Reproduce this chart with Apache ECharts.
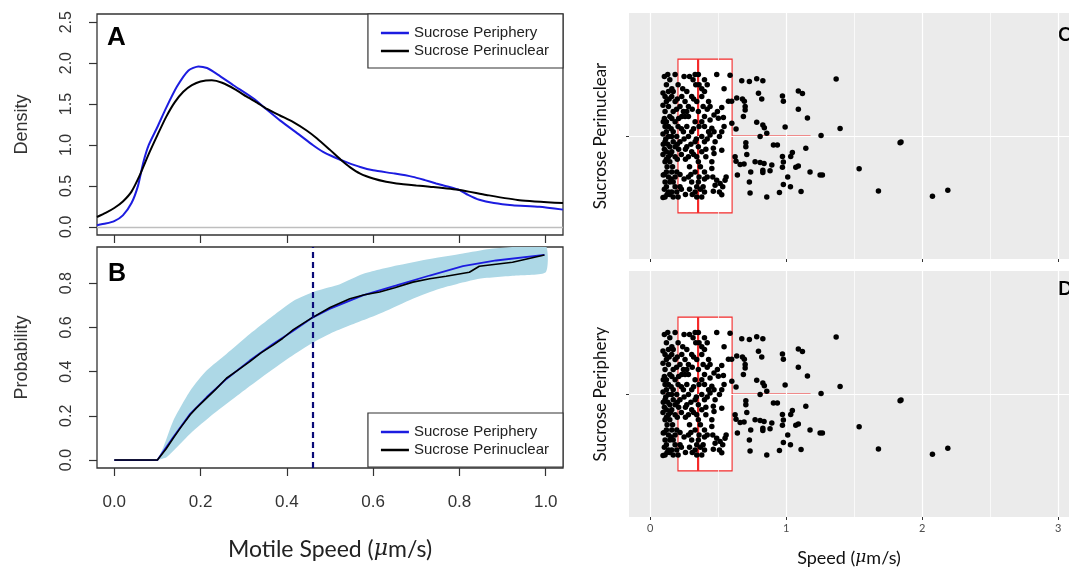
<!DOCTYPE html>
<html>
<head>
<meta charset="utf-8">
<title>Motile speed</title>
<script src="https://cdn.jsdelivr.net/npm/echarts@6.0.0/dist/echarts.min.js"></script>
<style>
  html, body { margin: 0; padding: 0; background: #fff; }
  #chart { width: 1069px; height: 571px; }
</style>
</head>
<body>
<div id="chart"></div>
<script>
// ---- panel A: kernel density, [speed, density]
var densityPeriphery = [
  [-0.04, 0.02], [-0.02, 0.04], [0.0, 0.07], [0.02, 0.14], [0.04, 0.29], [0.055, 0.5],
  [0.067, 0.78], [0.08, 1.0], [0.1, 1.22], [0.12, 1.45], [0.145, 1.71], [0.172, 1.91],
  [0.195, 1.96], [0.215, 1.94], [0.24, 1.86], [0.276, 1.73], [0.322, 1.57], [0.354, 1.43],
  [0.384, 1.30], [0.43, 1.12], [0.46, 1.0], [0.484, 0.915], [0.51, 0.85], [0.538, 0.79],
  [0.57, 0.73], [0.6, 0.69], [0.65, 0.65], [0.692, 0.61], [0.72, 0.57], [0.746, 0.53],
  [0.775, 0.49], [0.8, 0.45], [0.82, 0.39], [0.846, 0.33], [0.88, 0.29], [0.923, 0.264],
  [0.985, 0.244], [1.04, 0.21]
];
var densityPerinuclear = [
  [-0.04, 0.12], [-0.02, 0.17], [0.0, 0.23], [0.02, 0.31], [0.04, 0.43], [0.06, 0.64],
  [0.08, 0.89], [0.1, 1.12], [0.12, 1.34], [0.14, 1.52], [0.16, 1.65], [0.18, 1.73],
  [0.2, 1.775], [0.226, 1.79], [0.25, 1.76], [0.28, 1.68], [0.307, 1.59], [0.33, 1.52],
  [0.354, 1.44], [0.384, 1.36], [0.415, 1.28], [0.445, 1.18], [0.47, 1.08], [0.5, 0.94],
  [0.525, 0.82], [0.546, 0.73], [0.57, 0.65], [0.6, 0.59], [0.63, 0.55], [0.654, 0.53],
  [0.7, 0.505], [0.731, 0.49], [0.8, 0.45], [0.862, 0.39], [0.939, 0.325], [1.04, 0.29]
];
var densityTicks = [0, 0.5, 1, 1.5, 2, 2.5];

// ---- panel B: cumulative probability, [speed, probability]
var cdfPeriphery = [
  [0, 0], [0.1, 0], [0.102, 0.006], [0.137, 0.104], [0.176, 0.209], [0.214, 0.284],
  [0.26, 0.367], [0.314, 0.45], [0.368, 0.525], [0.415, 0.585], [0.457, 0.642], [0.499, 0.684],
  [0.576, 0.745], [0.654, 0.79], [0.731, 0.835], [0.808, 0.877], [0.885, 0.903], [0.997, 0.928]
];
var cdfPerinuclear = [
  [0, 0], [0.1, 0], [0.102, 0.006], [0.12, 0.05], [0.137, 0.10], [0.155, 0.15], [0.176, 0.205],
  [0.19, 0.235], [0.214, 0.28], [0.235, 0.32], [0.26, 0.37], [0.285, 0.405], [0.314, 0.445],
  [0.34, 0.485], [0.368, 0.52], [0.39, 0.55], [0.415, 0.59], [0.435, 0.615], [0.457, 0.642],
  [0.5, 0.69], [0.546, 0.73], [0.58, 0.748], [0.615, 0.76], [0.65, 0.78], [0.692, 0.805],
  [0.731, 0.82], [0.769, 0.832], [0.823, 0.85], [0.846, 0.877], [0.923, 0.895], [0.997, 0.928]
];
// envelope of the simulated curves (light blue band)
var bandUpper = [
  [0.1, 0], [0.114, 0.059], [0.137, 0.179], [0.176, 0.314], [0.214, 0.405], [0.26, 0.48],
  [0.314, 0.57], [0.368, 0.653], [0.415, 0.72], [0.469, 0.766], [0.523, 0.796], [0.576, 0.842],
  [0.654, 0.88], [0.731, 0.91], [0.808, 0.935], [0.87, 0.955], [0.93, 0.965], [1.0, 0.97]
];
var bandLower = [
  [0.1, 0], [0.122, 0.014], [0.176, 0.119], [0.23, 0.209], [0.291, 0.30], [0.353, 0.39],
  [0.407, 0.465], [0.461, 0.532], [0.5, 0.572], [0.576, 0.632], [0.623, 0.669], [0.692, 0.73],
  [0.754, 0.775], [0.846, 0.82], [0.931, 0.835], [1.0, 0.85]
];
var probTicks = [0, 0.2, 0.4, 0.6, 0.8];
var speedTicks = [0, 0.2, 0.4, 0.6, 0.8, 1.0];
var cutoffSpeed = 0.458;

// ---- panels C / D: boxplot stats [q1, median, q3, lowWhisker, highWhisker]
var boxStats = [0.205, 0.353, 0.603, 0.095, 1.18];
var speedAxisTicks = [0, 1, 2, 3];
var speedMinorLines = [0.5, 1.5, 2.5];
// jittered points [speed, jitter position]
var jitterPoints = [
  [1.368, 1.278], [1.09, 1.22], [1.12, 1.207], [0.973, 1.195], [0.98, 1.17], [1.09, 1.13],
  [1.157, 1.088], [0.993, 1.044], [1.397, 1.036], [1.257, 1.003], [0.858, 1.013], [0.907, 0.956],
  [0.936, 0.956], [1.838, 0.967], [1.845, 0.971], [1.145, 0.94], [1.046, 0.92], [1.034, 0.90],
  [0.973, 0.90], [0.98, 0.873], [0.973, 0.847], [0.895, 0.858], [0.882, 0.83], [1.071, 0.847],
  [1.09, 0.854], [1.537, 0.84], [1.176, 0.824], [1.25, 0.81], [1.267, 0.81], [1.012, 0.80],
  [0.98, 0.763], [1.032, 0.753], [0.951, 0.724], [1.11, 0.729], [1.679, 0.732], [2.076, 0.706],
  [2.189, 0.735],
  [0.674, 1.27], [0.73, 1.266], [0.784, 1.279], [0.829, 1.27], [0.797, 1.209], [0.821, 1.181],
  [0.637, 1.185], [0.679, 1.181], [0.693, 1.17], [0.699, 1.144], [0.699, 1.127], [0.686, 1.095],
  [0.784, 1.067], [0.829, 1.054], [0.84, 1.04], [0.809, 0.997], [0.632, 1.034], [0.704, 0.967],
  [0.704, 0.948], [0.711, 0.91], [0.625, 0.899], [0.632, 0.877], [0.662, 0.861], [0.691, 0.864],
  [0.772, 0.874], [0.809, 0.871], [0.838, 0.866], [0.829, 0.833], [0.829, 0.822], [0.74, 0.825],
  [0.642, 0.81], [0.73, 0.776], [0.735, 0.722], [0.858, 0.702],
  [0.49, 1.30], [0.588, 1.296], [0.544, 1.23], [0.576, 1.17], [0.60, 1.17], [0.527, 1.139],
  [0.495, 1.119], [0.441, 1.144], [0.47, 1.103], [0.502, 1.087], [0.539, 1.09], [0.441, 1.078],
  [0.454, 1.038], [0.47, 1.021], [0.441, 1.005], [0.527, 1.021], [0.544, 1.046], [0.51, 0.997],
  [0.601, 1.062], [0.478, 0.972], [0.465, 0.94], [0.47, 0.915], [0.527, 0.931], [0.454, 0.874],
  [0.454, 0.842], [0.559, 0.80], [0.551, 0.784], [0.527, 0.714], [0.461, 0.80], [0.49, 0.784],
  [0.478, 0.76], [0.515, 0.768], [0.534, 0.752], [0.465, 0.73], [0.51, 0.727],
  [0.13, 1.30], [0.184, 1.30], [0.331, 1.30], [0.355, 1.30],
  [0.145, 1.275], [0.316, 1.275], [0.40, 1.275],
  [0.12, 1.25], [0.206, 1.25], [0.336, 1.25], [0.36, 1.25], [0.42, 1.25],
  [0.135, 1.217], [0.17, 1.217], [0.27, 1.217], [0.40, 1.217],
  [0.11, 1.193], [0.159, 1.193], [0.233, 1.193], [0.306, 1.193], [0.38, 1.193],
  [0.12, 1.168], [0.184, 1.168], [0.257, 1.168], [0.343, 1.168], [0.43, 1.168],
  [0.135, 1.144], [0.22, 1.144], [0.282, 1.144], [0.39, 1.144],
  [0.11, 1.119], [0.17, 1.119], [0.245, 1.119], [0.27, 1.119], [0.355, 1.119],
  [0.145, 1.095], [0.233, 1.095], [0.257, 1.095], [0.282, 1.095], [0.40, 1.095],
  [0.12, 1.07], [0.184, 1.07], [0.331, 1.07], [0.38, 1.07],
  [0.11, 1.046], [0.135, 1.046], [0.206, 1.046], [0.27, 1.046], [0.36, 1.046], [0.40, 1.046],
  [0.12, 1.021], [0.17, 1.021], [0.245, 1.021], [0.306, 1.021], [0.43, 1.021],
  [0.135, 0.997], [0.159, 0.997], [0.196, 0.997], [0.282, 0.997], [0.38, 0.997],
  [0.11, 0.972], [0.17, 0.972], [0.22, 0.972], [0.331, 0.972], [0.40, 0.972],
  [0.145, 0.948], [0.184, 0.948], [0.27, 0.948], [0.355, 0.948],
  [0.12, 0.923], [0.159, 0.923], [0.306, 0.923], [0.38, 0.923],
  [0.135, 0.899], [0.184, 0.899], [0.282, 0.899], [0.343, 0.899], [0.41, 0.899],
  [0.11, 0.874], [0.145, 0.874], [0.355, 0.874],
  [0.12, 0.825], [0.159, 0.825], [0.196, 0.825], [0.331, 0.825], [0.40, 0.825],
  [0.135, 0.80], [0.184, 0.80], [0.282, 0.80], [0.36, 0.80], [0.42, 0.80],
  [0.11, 0.776], [0.145, 0.776], [0.17, 0.776], [0.306, 0.776], [0.355, 0.776],
  [0.12, 0.752], [0.184, 0.752], [0.22, 0.752], [0.343, 0.752], [0.39, 0.752],
  [0.135, 0.727], [0.159, 0.727], [0.196, 0.727], [0.331, 0.727], [0.40, 0.727],
  [0.11, 0.703], [0.17, 0.703], [0.206, 0.703], [0.343, 0.703], [0.38, 0.703],
  [0.095, 1.21], [0.095, 1.15], [0.097, 1.07], [0.095, 1.01], [0.097, 0.96], [0.095, 0.91],
  [0.097, 0.81], [0.095, 0.70],
  [0.105, 1.29], [0.25, 1.29], [0.29, 1.29], [0.16, 1.23], [0.24, 1.23], [0.38, 1.23],
  [0.2, 1.18], [0.14, 1.18], [0.32, 1.18], [0.195, 1.13], [0.31, 1.13], [0.42, 1.13],
  [0.105, 1.085], [0.16, 1.085], [0.21, 1.085], [0.155, 1.035], [0.23, 1.035], [0.32, 1.035],
  [0.115, 0.985], [0.25, 0.985], [0.34, 0.985], [0.42, 0.985], [0.13, 0.96], [0.2, 0.96],
  [0.3, 0.96], [0.105, 0.935], [0.21, 0.935], [0.26, 0.935], [0.41, 0.935], [0.15, 0.91],
  [0.23, 0.91], [0.32, 0.91], [0.12, 0.886], [0.2, 0.886], [0.26, 0.886], [0.125, 0.85],
  [0.165, 0.85], [0.29, 0.85], [0.37, 0.85], [0.105, 0.812], [0.22, 0.812], [0.3, 0.812],
  [0.155, 0.79], [0.25, 0.79], [0.4, 0.79], [0.105, 0.74], [0.23, 0.74], [0.29, 0.74],
  [0.37, 0.74], [0.125, 0.715], [0.145, 0.715], [0.26, 0.715], [0.31, 0.715]
];

var chart = echarts.init(document.getElementById('chart'));

var BLUE = '#1c1ce0';
var RFONT = 'Liberation Sans';
var GFONT = 'Lato';

function oneDecimal(v) { return v.toFixed(1); }

// R style axes (base graphics look)
function rXAxis(grid, showLabels, name) {
  return {
    type: 'value', gridIndex: grid, min: -0.04, max: 1.04,
    axisLine: { show: false, onZero: false },
    splitLine: { show: false },
    axisTick: { show: true, customValues: speedTicks, length: 8, lineStyle: { color: '#333', width: 1.2 } },
    axisLabel: {
      show: showLabels, customValues: speedTicks, formatter: oneDecimal,
      fontSize: 17, fontFamily: RFONT, color: '#333', margin: 26
    },
    name: name || '', nameLocation: 'middle', nameGap: 70,
    nameTextStyle: {
      fontFamily: GFONT, fontSize: 23, color: '#222',
      rich: { i: { fontFamily: 'DejaVu Serif', fontStyle: 'italic', fontSize: 22, color: '#222' } }
    }
  };
}
function rYAxis(grid, min, max, ticks, name) {
  return {
    type: 'value', gridIndex: grid, min: min, max: max,
    axisLine: { show: false, onZero: false },
    splitLine: { show: false },
    axisTick: { show: true, customValues: ticks, length: 8, lineStyle: { color: '#333', width: 1.2 } },
    axisLabel: {
      customValues: ticks, formatter: oneDecimal, rotate: 90,
      fontSize: 16, fontFamily: RFONT, color: '#333', margin: 22
    },
    name: name, nameLocation: 'middle', nameGap: 66, nameRotate: 90,
    nameTextStyle: { fontFamily: RFONT, fontSize: 18, color: '#333' }
  };
}
// ggplot style axes
function gXAxis(grid, showLabels, name) {
  return {
    type: 'value', gridIndex: grid, min: -0.155, max: 3.08,
    axisLine: { show: false, onZero: false },
    splitLine: { show: false },
    axisTick: { show: true, customValues: speedAxisTicks, length: 3, lineStyle: { color: '#333' } },
    axisLabel: {
      show: showLabels, customValues: speedAxisTicks,
      fontSize: 11, fontFamily: GFONT, color: '#4d4d4d', margin: 6
    },
    name: name || '', nameLocation: 'middle', nameGap: 32,
    nameTextStyle: {
      fontFamily: GFONT, fontSize: 18, color: '#111',
      rich: { i: { fontFamily: 'DejaVu Serif', fontStyle: 'italic', fontSize: 17, color: '#111' } }
    }
  };
}
function gYAxis(grid, name) {
  return {
    type: 'value', gridIndex: grid, min: 0.4, max: 1.6,
    axisLine: { show: false, onZero: false },
    splitLine: { show: false },
    axisTick: { show: true, customValues: [1], length: 3, lineStyle: { color: '#333' } },
    axisLabel: { show: false },
    name: name, nameLocation: 'middle', nameGap: 20, nameRotate: 90,
    nameTextStyle: { fontFamily: GFONT, fontSize: 17, color: '#111' }
  };
}

function rLegend(top) {
  return {
    orient: 'vertical', right: 506, top: top,
    padding: [11, 14, 9, 13], itemGap: 2,
    itemWidth: 28, itemHeight: 2.5, icon: 'rect',
    backgroundColor: '#fff', borderColor: '#333', borderWidth: 1.2, borderRadius: 0,
    textStyle: { fontFamily: RFONT, fontSize: 15, color: '#222', lineHeight: 16 },
    data: ['Sucrose Periphery', 'Sucrose Perinuclear'],
    selectedMode: false
  };
}

// white panel grid lines for the ggplot panels, drawn from the speed scale
function panelGridLines() {
  var lines = [];
  speedAxisTicks.forEach(function (v) {
    lines.push({ xAxis: v, lineStyle: { color: '#fff', width: 1.2, type: 'solid' } });
  });
  speedMinorLines.forEach(function (v) {
    lines.push({ xAxis: v, lineStyle: { color: '#fff', width: 0.7, type: 'solid' } });
  });
  lines.push({ yAxis: 1, lineStyle: { color: '#fff', width: 1.2, type: 'solid' } });
  return lines;
}

function boxSeries(axisIdx) {
  return {
    type: 'custom', xAxisIndex: axisIdx, yAxisIndex: axisIdx, z: 3,
    data: [boxStats],
    encode: { x: [0, 1, 2, 3, 4] },
    renderItem: function (params, api) {
      var q1 = api.value(0), med = api.value(1), q3 = api.value(2);
      var lo = api.value(3), hi = api.value(4);
      var tl = api.coord([q1, 1.375]), br = api.coord([q3, 0.625]);
      var m1 = api.coord([med, 1.375]), m2 = api.coord([med, 0.625]);
      var a = api.coord([lo, 1]), b = api.coord([q1, 1]);
      var c = api.coord([q3, 1]), d = api.coord([hi, 1]);
      var red = '#f42a2a';
      return {
        type: 'group',
        children: [
          { type: 'line', shape: { x1: a[0], y1: a[1], x2: b[0], y2: b[1] }, style: { stroke: red, lineWidth: 1.1 } },
          { type: 'line', shape: { x1: c[0], y1: c[1], x2: d[0], y2: d[1] }, style: { stroke: red, lineWidth: 1.1 } },
          { type: 'rect', shape: { x: tl[0], y: tl[1], width: br[0] - tl[0], height: br[1] - tl[1] },
            style: { fill: '#fff', stroke: red, lineWidth: 1.1 } },
          { type: 'line', shape: { x1: m1[0], y1: m1[1], x2: m2[0], y2: m2[1] }, style: { stroke: red, lineWidth: 2.2 } }
        ]
      };
    }
  };
}

function panelSeries(axisIdx) {
  return [
    {
      type: 'line', xAxisIndex: axisIdx, yAxisIndex: axisIdx, data: [], z: 1, silent: true,
      markLine: { silent: true, symbol: 'none', label: { show: false }, animation: false, data: panelGridLines() }
    },
    boxSeries(axisIdx),
    {
      type: 'scatter', xAxisIndex: axisIdx, yAxisIndex: axisIdx, z: 5,
      symbolSize: 5.5, itemStyle: { color: '#000', opacity: 1 },
      data: jitterPoints
    }
  ];
}

var option = {
  animation: false,
  backgroundColor: '#fff',
  grid: [
    { left: 97, top: 14, width: 466, height: 221, show: true, backgroundColor: '#fff', borderColor: '#333', borderWidth: 1.3 },
    { left: 97, top: 247, width: 466, height: 221, show: true, backgroundColor: '#fff', borderColor: '#333', borderWidth: 1.3 },
    { left: 629, top: 13, right: 0, height: 246, show: true, backgroundColor: '#ebebeb', borderWidth: 0 },
    { left: 629, top: 271, right: 0, height: 246, show: true, backgroundColor: '#ebebeb', borderWidth: 0 }
  ],
  xAxis: [
    rXAxis(0, false),
    rXAxis(1, true, '{n|Motile Speed (}{i|μ}{n|m/s)}'),
    gXAxis(2, false),
    gXAxis(3, true, '{n|Speed (}{i|μ}{n|m/s)}')
  ],
  yAxis: [
    rYAxis(0, -0.1, 2.6, densityTicks, 'Density'),
    rYAxis(1, -0.036, 0.964, probTicks, 'Probability'),
    gYAxis(2, 'Sucrose Perinuclear'),
    gYAxis(3, 'Sucrose Periphery')
  ],
  legend: [rLegend(14), rLegend(413)],
  graphic: [
    { type: 'text', x: 107, y: 38, style: { text: 'A', font: 'bold 26px "Liberation Sans"', fill: '#000', verticalAlign: 'middle' } },
    { type: 'text', x: 108, y: 274, style: { text: 'B', font: 'bold 25px "Liberation Sans"', fill: '#000', verticalAlign: 'middle' } },
    { type: 'text', x: 1058, y: 35, style: { text: 'C', font: 'bold 19px Lato', fill: '#000', verticalAlign: 'middle' } },
    { type: 'text', x: 1058, y: 289, style: { text: 'D', font: 'bold 19px Lato', fill: '#000', verticalAlign: 'middle' } }
  ],
  series: [
    // panel A
    {
      name: 'Sucrose Periphery', type: 'line', xAxisIndex: 0, yAxisIndex: 0,
      data: densityPeriphery, smooth: 0.2, showSymbol: false, symbol: 'none', z: 3,
      lineStyle: { color: BLUE, width: 2 }, itemStyle: { color: BLUE },
      markLine: {
        silent: true, symbol: 'none', label: { show: false }, animation: false,
        lineStyle: { color: '#bebebe', width: 1.3, type: 'solid' },
        data: [{ yAxis: 0 }]
      }
    },
    {
      name: 'Sucrose Perinuclear', type: 'line', xAxisIndex: 0, yAxisIndex: 0,
      data: densityPerinuclear, smooth: 0.2, showSymbol: false, symbol: 'none', z: 3,
      lineStyle: { color: '#000', width: 2 }, itemStyle: { color: '#000' }
    },
    // panel B: simulation envelope
    {
      type: 'custom', xAxisIndex: 1, yAxisIndex: 1, z: 1, clip: true, silent: true,
      data: [0],
      renderItem: function (params, api) {
        var pts = [];
        bandUpper.forEach(function (p) { pts.push(api.coord(p)); });
        for (var i = bandLower.length - 1; i >= 0; i--) pts.push(api.coord(bandLower[i]));
        return { type: 'polygon', shape: { points: pts, smooth: 0.2 }, style: { fill: '#add8e6' } };
      }
    },
    {
      name: 'Sucrose Periphery', type: 'line', xAxisIndex: 1, yAxisIndex: 1,
      data: cdfPeriphery, showSymbol: false, symbol: 'none', z: 3,
      lineStyle: { color: BLUE, width: 1.8 }, itemStyle: { color: BLUE },
      markLine: {
        silent: true, symbol: 'none', label: { show: false }, animation: false,
        lineStyle: { color: '#0a0a78', width: 2.2, type: [6, 4] },
        data: [{ xAxis: cutoffSpeed }]
      }
    },
    {
      name: 'Sucrose Perinuclear', type: 'line', xAxisIndex: 1, yAxisIndex: 1,
      data: cdfPerinuclear, showSymbol: false, symbol: 'none', z: 4,
      lineStyle: { color: '#000', width: 1.6 }, itemStyle: { color: '#000' }
    }
  ].concat(panelSeries(2)).concat(panelSeries(3))
};

chart.setOption(option);
</script>
</body>
</html>
